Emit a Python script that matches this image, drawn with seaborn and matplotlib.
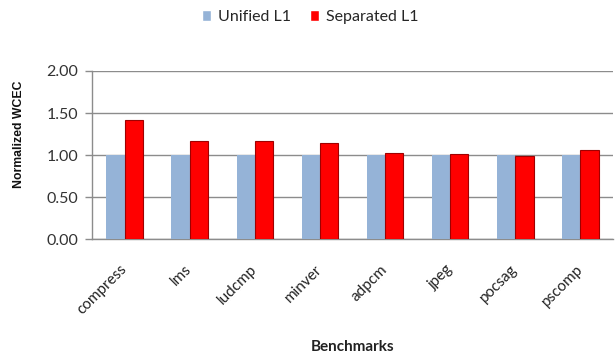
import matplotlib
matplotlib.use("Agg")
import matplotlib.pyplot as plt
import matplotlib.transforms as mtransforms
import pandas as pd
import seaborn as sns

benchmarks = ["compress", "lms", "ludcmp", "minver", "adpcm", "jpeg", "pocsag", "pscomp"]
unified_l1 = [1.00, 1.00, 1.00, 1.00, 1.00, 1.00, 1.00, 1.00]
separated_l1 = [1.42, 1.17, 1.17, 1.15, 1.03, 1.01, 0.99, 1.06]
series_names = ["Unified L1", "Separated L1"]
y_ticks = [0.0, 0.5, 1.0, 1.5, 2.0]

df = pd.DataFrame({
    "Benchmark": benchmarks * 2,
    "Series": [series_names[0]] * len(benchmarks) + [series_names[1]] * len(benchmarks),
    "WCEC": unified_l1 + separated_l1,
})

sns.set_style("white")
plt.rcParams["font.family"] = ["Lato", "DejaVu Sans"]

fig = plt.figure(figsize=(6.15, 3.58), dpi=100)
ax = fig.add_axes([0.1496, 0.3316, 0.8471, 0.4701])

palette = {series_names[0]: "#95B3D7", series_names[1]: "#FF0000"}
sns.barplot(data=df, x="Benchmark", y="WCEC", hue="Series", palette=palette,
            width=0.56, gap=0, saturation=1, ax=ax, legend=True, zorder=3)

# darker outline on the red bars
for bar in ax.containers[1]:
    bar.set_edgecolor("#A00000")
    bar.set_linewidth(0.8)
for bar in ax.containers[0]:
    bar.set_linewidth(0)

ax.set_ylim(0, 2.0)
ax.set_xlim(-0.5, len(benchmarks) - 0.5)
ax.set_yticks(y_ticks)
ax.set_yticklabels([f"{t:.2f}" for t in y_ticks], fontsize=11.5, color="#333333")
ax.yaxis.grid(True, color="#8C8C8C", linewidth=1.0, zorder=0)
ax.set_axisbelow(True)

for side in ["top", "right"]:
    ax.spines[side].set_visible(False)
ax.spines["left"].set_color("#8C8C8C")
ax.spines["bottom"].set_color("#8C8C8C")
ax.spines["left"].set_linewidth(1.0)
ax.spines["bottom"].set_linewidth(1.0)

ax.tick_params(axis="y", which="major", left=True, length=5, width=1,
               color="#8C8C8C", pad=5)
ax.tick_params(axis="x", which="major", bottom=False, length=0, pad=2)

ax.set_xticks(range(len(benchmarks)))
ax.set_xticklabels(benchmarks, rotation=45, ha="right", rotation_mode="anchor",
                   fontsize=11, color="#222222")
shift = mtransforms.ScaledTranslation(-5 / 100, -20 / 100, fig.dpi_scale_trans)
for lbl in ax.get_xticklabels():
    lbl.set_transform(lbl.get_transform() + shift)

ax.set_xlabel("Benchmarks", fontsize=11, fontweight="bold", color="#222222")
ax.xaxis.set_label_coords(0.5, -0.60)
ax.set_ylabel("Normalized WCEC", fontsize=8.8, fontweight="bold", color="#111111",
              family=["Liberation Sans", "DejaVu Sans"])
ax.yaxis.set_label_coords(-0.128, 0.625)

handles, labels = ax.get_legend_handles_labels()
ax.legend(handles, labels, loc="center", bbox_to_anchor=(310 / 615, 1 - 17 / 358),
          bbox_transform=fig.transFigure, ncol=2, frameon=False, fontsize=11.5,
          handlelength=0.6, handleheight=0.7, handletextpad=0.4, columnspacing=1.2)

fig.savefig("out.png", dpi=100)
